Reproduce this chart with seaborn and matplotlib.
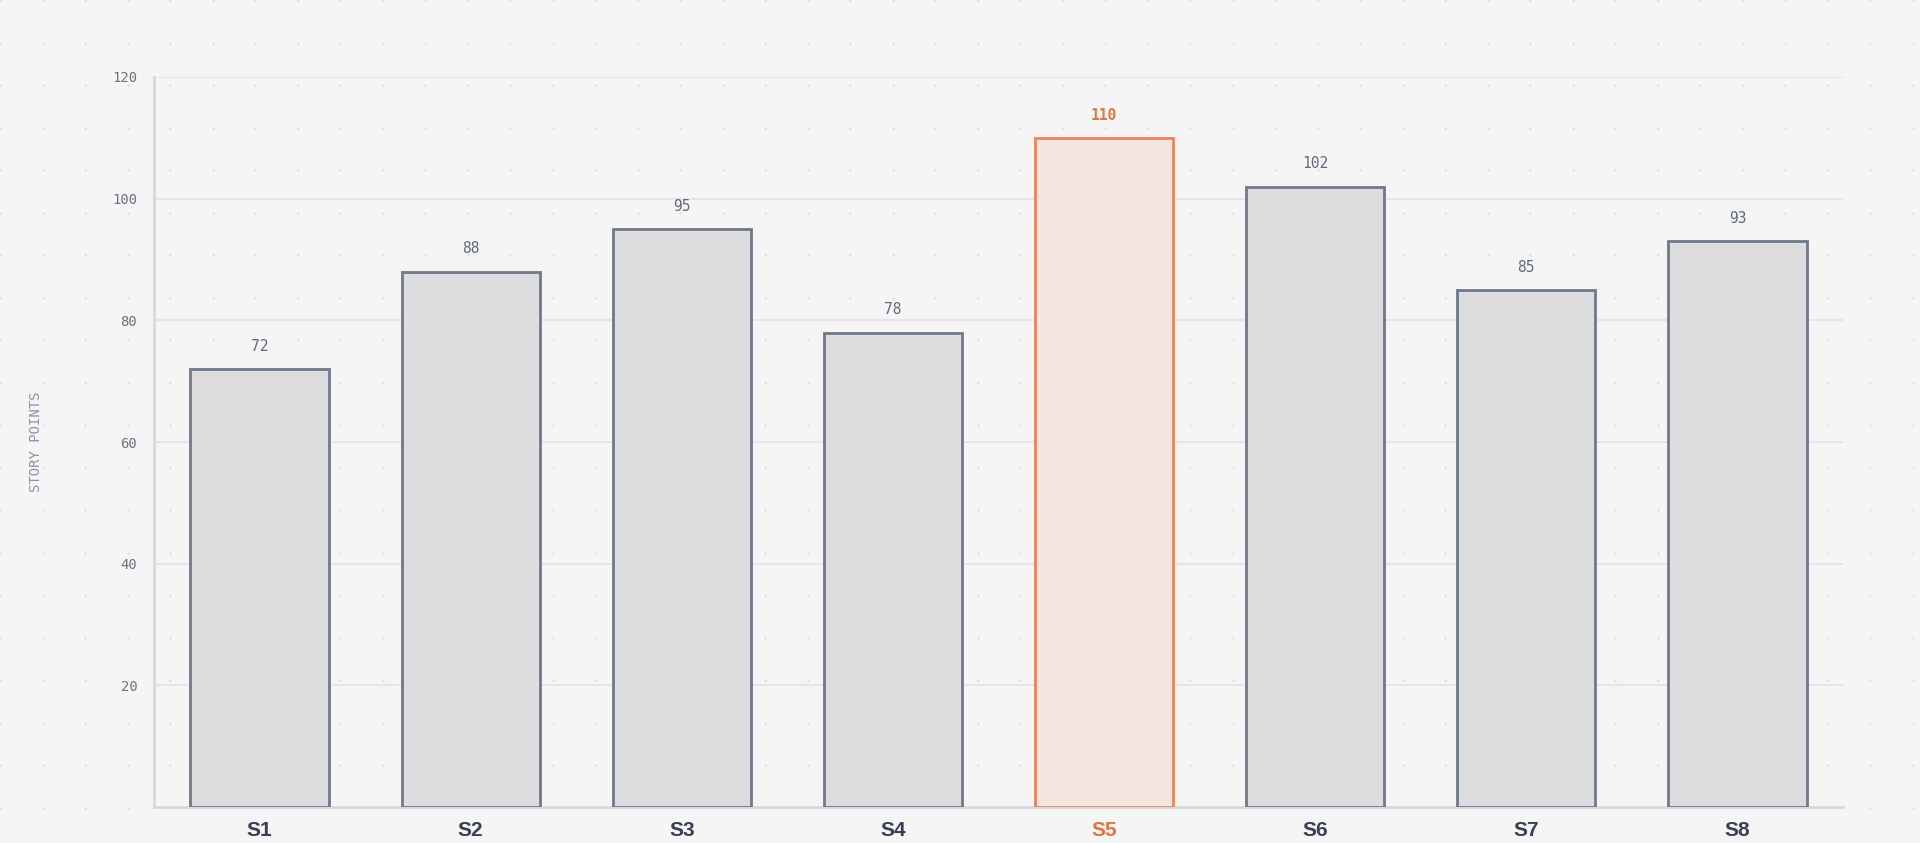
import matplotlib
matplotlib.use('Agg')
import matplotlib.pyplot as plt
import seaborn as sns
import numpy as np
import pandas as pd

# chart data
sprints = ['S1', 'S2', 'S3', 'S4', 'S5', 'S6', 'S7', 'S8']
story_points = [72, 88, 95, 78, 110, 102, 85, 93]
highlight = 'S5'
y_ticks = [20, 40, 60, 80, 100, 120]

BG = '#f5f5f6'
GRAY_FILL = '#dcdde1'
GRAY_EDGE = '#6e798b'
ORANGE_FILL = '#f7e4dc'
ORANGE_EDGE = '#e8845a'
ORANGE_TEXT = '#e07544'
TICK_GRAY = '#6b7280'
MONO = 'DejaVu Sans Mono'

sns.set_theme(style='white')
plt.rcParams['font.family'] = ['Liberation Sans', 'DejaVu Sans']

df = pd.DataFrame({'sprint': sprints, 'points': story_points})
palette = {s: (ORANGE_FILL if s == highlight else GRAY_FILL) for s in sprints}

fig = plt.figure(figsize=(19.2, 8.43), dpi=100)
fig.patch.set_facecolor(BG)

# dotted background texture
bg = fig.add_axes([0, 0, 1, 1], zorder=-5)
bg.set_xlim(0, 1920)
bg.set_ylim(843, 0)
bg.axis('off')
gx, gy = np.meshgrid(np.arange(0, 1921, 42.5), np.arange(0, 844, 42.5))
bg.scatter(gx.ravel(), gy.ravel(), s=3, color='#dcdee2', linewidths=0)

ax = fig.add_axes([154 / 1920, 36 / 843, (1843 - 154) / 1920, (807 - 77) / 843])
ax.set_facecolor('none')

sns.barplot(data=df, x='sprint', y='points', hue='sprint', palette=palette,
            legend=False, width=0.655, linewidth=2, ax=ax, zorder=3)

for patch, s, v in zip(ax.patches, sprints, story_points):
    hot = s == highlight
    patch.set_edgecolor(ORANGE_EDGE if hot else GRAY_EDGE)
    ax.annotate(f'{v}', (patch.get_x() + patch.get_width() / 2, v),
                xytext=(0, 11), textcoords='offset points',
                ha='center', va='bottom', fontsize=10.5, family=MONO,
                fontweight='bold' if hot else 'normal',
                color=ORANGE_TEXT if hot else '#5f6b7a', zorder=4)

ax.set_xlim(-0.5, len(sprints) - 0.5)
ax.set_ylim(0, 120)
ax.set_yticks(y_ticks)
ax.set_yticklabels([str(t) for t in y_ticks], family=MONO, fontsize=10, color=TICK_GRAY)
ax.yaxis.grid(True, color='#e4e5e8', linewidth=1.5, zorder=0)
ax.set_axisbelow(True)

ax.tick_params(axis='y', length=0, pad=12)
ax.tick_params(axis='x', length=0, pad=10)
for lbl in ax.get_xticklabels():
    lbl.set_fontsize(15)
    lbl.set_fontweight('bold')
    lbl.set_color(ORANGE_TEXT if lbl.get_text() == highlight else '#374151')

ax.set_xlabel('')
ax.set_ylabel('STORY POINTS', family=MONO, fontsize=10, color='#8a94a6')
ax.yaxis.set_label_coords(-0.066, 0.5)

for side in ['top', 'right']:
    ax.spines[side].set_visible(False)
for side in ['left', 'bottom']:
    ax.spines[side].set_color('#d6d8dc')
    ax.spines[side].set_linewidth(2)

fig.savefig('out.png', dpi=100, facecolor=BG)
